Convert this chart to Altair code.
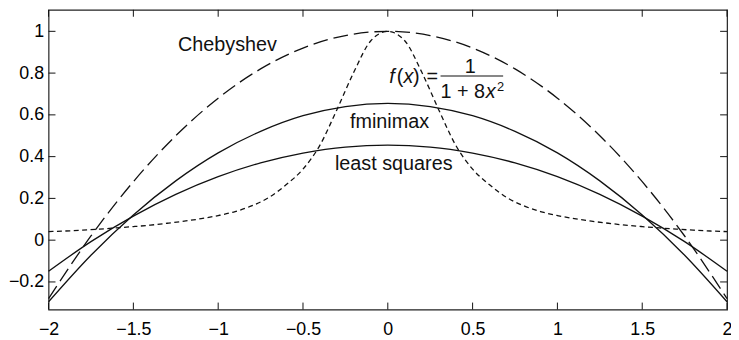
import altair as alt
import pandas as pd

# ---- data ----
x_f = [-2.0, -1.9, -1.8, -1.7, -1.6, -1.5, -1.4, -1.3, -1.2, -1.1, -1.0,
       -0.9, -0.8, -0.7, -0.6, -0.5, -0.4, -0.3, -0.2, -0.1, 0.0,
       0.1, 0.2, 0.3, 0.4, 0.5, 0.6, 0.7, 0.8, 0.9, 1.0,
       1.1, 1.2, 1.3, 1.4, 1.5, 1.6, 1.7, 1.8, 1.9, 2.0]
y_f = [0.041, 0.044, 0.048, 0.053, 0.059, 0.065, 0.072, 0.081, 0.091, 0.103, 0.118,
       0.137, 0.165, 0.205, 0.265, 0.340, 0.455, 0.625, 0.805, 0.955, 1.0,
       0.955, 0.805, 0.625, 0.455, 0.340, 0.265, 0.205, 0.165, 0.137, 0.118,
       0.103, 0.091, 0.081, 0.072, 0.065, 0.059, 0.053, 0.048, 0.044, 0.041]

x_q = [-2.0, -1.75, -1.5, -1.25, -1.0, -0.75, -0.5, -0.25, 0.0,
       0.25, 0.5, 0.75, 1.0, 1.25, 1.5, 1.75, 2.0]
cheb = [-0.28, 0.02, 0.28, 0.50, 0.68, 0.82, 0.92, 0.98, 1.0,
        0.98, 0.92, 0.82, 0.68, 0.50, 0.28, 0.02, -0.28]
fmin = [-0.295, -0.072, 0.121, 0.284, 0.418, 0.521, 0.596, 0.64, 0.655,
        0.64, 0.596, 0.521, 0.418, 0.284, 0.121, -0.072, -0.295]
lsq = [-0.149, -0.007, 0.115, 0.219, 0.304, 0.37, 0.417, 0.446, 0.455,
       0.446, 0.417, 0.37, 0.304, 0.219, 0.115, -0.007, -0.149]

x_ticks = [-2, -1.5, -1, -0.5, 0, 0.5, 1, 1.5, 2]
y_ticks = [-0.2, 0, 0.2, 0.4, 0.6, 0.8, 1.0]

# annotations (text, x, y)
ann_normal = [("Chebyshev", -0.945, 0.905), ("fminimax", 0.01, 0.537),
              ("least squares", 0.035, 0.336)]
ann_formula_upright = [("(", 0.072, 0.752), (")", 0.168, 0.752), ("=", 0.262, 0.752),
                       ("1", 0.486, 0.802), ("1 + 8", 0.442, 0.682)]
ann_formula_italic = [("f", 0.025, 0.752), ("x", 0.121, 0.752), ("x", 0.607, 0.682)]
ann_sup = [("2", 0.665, 0.716)]
frac_bar = [(0.311, 0.68, 0.786)]

# ---- chart ----
W, H = 686, 303
FONT = "Liberation Sans"
INK = "#111"

xs = alt.Scale(domain=[-2, 2], nice=False, zero=False)
ys = alt.Scale(domain=[-0.332, 1.103], nice=False, zero=False)

df_f = pd.DataFrame({"x": x_f, "y": y_f})
df_q = pd.DataFrame({"x": x_q, "cheb": cheb, "fmin": fmin, "lsq": lsq})

X = alt.X("x:Q", scale=xs,
          axis=alt.Axis(values=x_ticks, format="~g", title=None, labelPadding=11,
                        labelFlush=False, labelOverlap=False))
Y_axis = alt.Axis(values=y_ticks, format="~g", title=None, labelPadding=5,
                  labelFlush=False, labelOverlap=False)

cheb_line = alt.Chart(df_q).mark_line(
    color=INK, strokeWidth=1.3, strokeDash=[15, 6], interpolate="monotone"
).encode(x=X, y=alt.Y("cheb:Q", scale=ys, axis=Y_axis))

fmin_line = alt.Chart(df_q).mark_line(
    color=INK, strokeWidth=1.3, interpolate="monotone"
).encode(x=alt.X("x:Q", scale=xs), y=alt.Y("fmin:Q", scale=ys))

lsq_line = alt.Chart(df_q).mark_line(
    color=INK, strokeWidth=1.3, interpolate="monotone"
).encode(x=alt.X("x:Q", scale=xs), y=alt.Y("lsq:Q", scale=ys))

f_line = alt.Chart(df_f).mark_line(
    color=INK, strokeWidth=1.3, strokeDash=[5, 3.5], interpolate="monotone"
).encode(x=alt.X("x:Q", scale=xs), y=alt.Y("y:Q", scale=ys))


def text_layer(rows, size, style="normal"):
    d = pd.DataFrame(rows, columns=["t", "x", "y"])
    return alt.Chart(d).mark_text(
        font=FONT, fontSize=size, fontStyle=style, color=INK,
        align="center", baseline="alphabetic"
    ).encode(x=alt.X("x:Q", scale=xs), y=alt.Y("y:Q", scale=ys), text="t:N")


t1 = text_layer(ann_normal, 20)
t2 = text_layer(ann_formula_upright, 20)
t3 = text_layer(ann_formula_italic, 20, "italic")
t4 = text_layer(ann_sup, 13)

bar = alt.Chart(pd.DataFrame(frac_bar, columns=["x1", "x2", "y"])).mark_rule(
    color=INK, strokeWidth=1.2
).encode(x=alt.X("x1:Q", scale=xs), x2="x2:Q", y=alt.Y("y:Q", scale=ys))

# inward ticks on all four sides
dfx = pd.DataFrame({"v": x_ticks})
dfy = pd.DataFrame({"v": y_ticks})
TL = 7
tick_b = alt.Chart(dfx).mark_rule(color=INK, strokeWidth=1).encode(
    x=alt.X("v:Q", scale=xs), y=alt.value(H), y2=alt.value(H - TL))
tick_t = alt.Chart(dfx).mark_rule(color=INK, strokeWidth=1).encode(
    x=alt.X("v:Q", scale=xs), y=alt.value(0), y2=alt.value(TL))
tick_l = alt.Chart(dfy).mark_rule(color=INK, strokeWidth=1).encode(
    y=alt.Y("v:Q", scale=ys), x=alt.value(0), x2=alt.value(TL))
tick_r = alt.Chart(dfy).mark_rule(color=INK, strokeWidth=1).encode(
    y=alt.Y("v:Q", scale=ys), x=alt.value(W), x2=alt.value(W - TL))

chart = alt.layer(
    cheb_line, fmin_line, lsq_line, f_line, bar, t1, t2, t3, t4,
    tick_b, tick_t, tick_l, tick_r
).properties(
    width=W, height=H,
    autosize=alt.AutoSizeParams(type="none"),
    padding={"left": 41, "top": 0, "right": 4, "bottom": 30},
    background="white",
).configure_axis(
    domain=False, ticks=False, grid=False,
    labelFont=FONT, labelFontSize=18, labelColor="black",
).configure_view(stroke="#222", strokeWidth=1.2)

chart.save("out.html", embed_options={"renderer": "svg", "actions": False})
